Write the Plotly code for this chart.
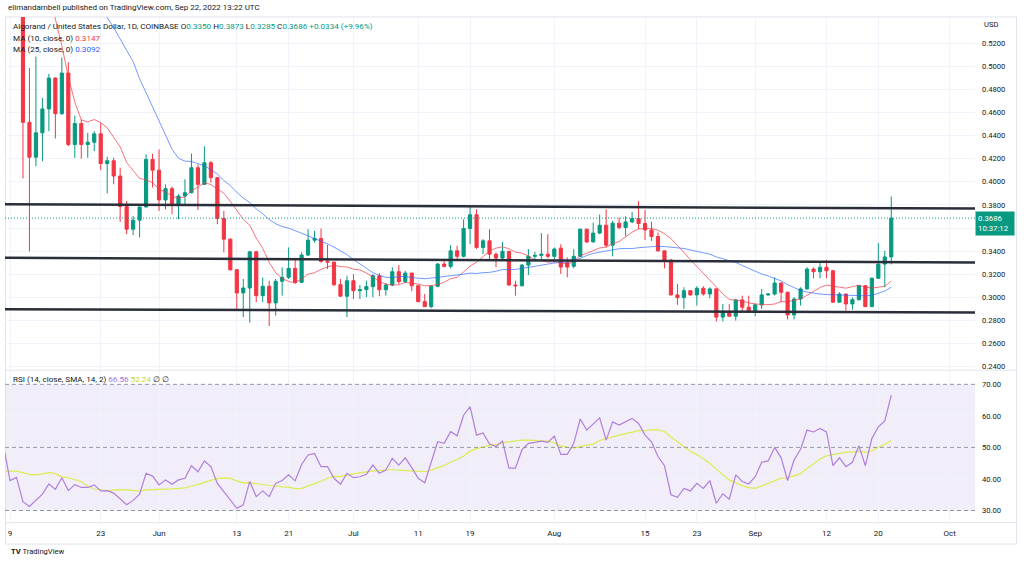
import pandas as pd
import plotly.graph_objects as go

# ---------------- data ----------------
candle_start = "2022-05-11"
candle_end = "2022-09-22"

opens = [0.586, 0.4515, 0.4213, 0.4424, 0.4631, 0.4898, 0.4590, 0.4941, 0.4323, 0.4504, 0.4323, 0.4343, 0.4415, 0.4159, 0.4182, 0.4050, 0.3786, 0.3590, 0.3668, 0.3782, 0.4194,
         0.4101, 0.3843, 0.3941, 0.3797, 0.3877, 0.3906, 0.4122, 0.3978, 0.4165, 0.4036, 0.3682, 0.3504, 0.3239, 0.3038, 0.3081, 0.3394, 0.3015, 0.3096, 0.2952, 0.3139, 0.3173, 0.3251, 0.3130, 0.3366, 0.3495, 0.3510, 0.3311, 0.3305, 0.3110, 0.3010,
         0.3144, 0.3058, 0.3067, 0.3093, 0.3187, 0.3066, 0.3107, 0.3222, 0.3136, 0.3210, 0.3101, 0.2963, 0.2920, 0.3096, 0.3288, 0.3268, 0.3403, 0.3355, 0.3596, 0.3715, 0.3432, 0.3489, 0.3374, 0.3340, 0.3398, 0.3107, 0.3100, 0.3279, 0.3355, 0.3363, 0.3374,
         0.3355, 0.3426, 0.3300, 0.3269, 0.3355, 0.3590, 0.3480, 0.3556, 0.3624, 0.3452, 0.3642, 0.3605, 0.3653, 0.3682, 0.3639, 0.3584, 0.3527, 0.3403, 0.3323, 0.3021, 0.2998, 0.3058, 0.3021, 0.3079, 0.3029, 0.3073, 0.2829, 0.2877, 0.2837, 0.2978, 0.2915,
         0.2877, 0.2935, 0.3021, 0.3029, 0.3124, 0.3044, 0.2848, 0.2986, 0.3073, 0.3245, 0.3222, 0.3260, 0.3230, 0.2958, 0.3029, 0.2943, 0.2980, 0.3101, 0.2920, 0.3165, 0.3288, 0.3350]
highs = [0.600, 0.4984, 0.5084, 0.4726, 0.4935, 0.4905, 0.5076, 0.5036, 0.4573, 0.4539, 0.4424, 0.4438, 0.4510, 0.4217, 0.4208, 0.4122, 0.3834, 0.3705, 0.3785, 0.4237, 0.4243,
         0.4280, 0.3978, 0.3958, 0.3892, 0.4022, 0.4245, 0.4150, 0.4308, 0.4180, 0.4040, 0.3748, 0.3510, 0.3245, 0.3159, 0.3403, 0.3403, 0.3173, 0.3144, 0.3159, 0.3260, 0.3432, 0.3331, 0.3390, 0.3590, 0.3575, 0.3596, 0.3455, 0.3308, 0.3159, 0.3187,
         0.3200, 0.3107, 0.3144, 0.3200, 0.3210, 0.3124, 0.3260, 0.3279, 0.3230, 0.3212, 0.3103, 0.3029, 0.3107, 0.3297, 0.3317, 0.3452, 0.3446, 0.3676, 0.3786, 0.3762, 0.3504, 0.3590, 0.3389, 0.3480, 0.3402, 0.3144, 0.3288, 0.3418, 0.3394, 0.3556, 0.3547,
         0.3432, 0.3460, 0.3346, 0.3418, 0.3596, 0.3595, 0.3648, 0.3717, 0.3762, 0.3662, 0.3691, 0.3700, 0.3739, 0.3834, 0.3756, 0.3653, 0.3562, 0.3405, 0.3331, 0.3116, 0.3087, 0.3063, 0.3096, 0.3096, 0.3087, 0.3079, 0.2943, 0.2943, 0.2980, 0.3015, 0.3015,
         0.2943, 0.3073, 0.3035, 0.3173, 0.3130, 0.3050, 0.3001, 0.3087, 0.3260, 0.3260, 0.3297, 0.3323, 0.3239, 0.3044, 0.3032, 0.3001, 0.3107, 0.3107, 0.3173, 0.3469, 0.3403, 0.3873]
lows = [0.4030, 0.3398, 0.4136, 0.4179, 0.4438, 0.4375, 0.4580, 0.4308, 0.4208, 0.4200, 0.4208, 0.4265, 0.4101, 0.3900, 0.3978, 0.3653, 0.3547, 0.3538, 0.3518, 0.3780, 0.3950,
        0.3748, 0.3762, 0.3719, 0.3676, 0.3797, 0.3900, 0.3756, 0.3975, 0.3993, 0.3633, 0.3389, 0.3230, 0.2886, 0.2829, 0.2780, 0.2958, 0.2958, 0.2751, 0.2842, 0.3015, 0.3159, 0.3116, 0.3125, 0.3360, 0.3475, 0.3300, 0.3245, 0.3096, 0.3005, 0.2829,
        0.2986, 0.2986, 0.3001, 0.3001, 0.3010, 0.3015, 0.3096, 0.3116, 0.3124, 0.3053, 0.2958, 0.2915, 0.2906, 0.3087, 0.3260, 0.3251, 0.3331, 0.3346, 0.3461, 0.3418, 0.3374, 0.3331, 0.3260, 0.3331, 0.3100, 0.3015, 0.3096, 0.3193, 0.3308, 0.3317, 0.3337,
        0.3303, 0.3202, 0.3173, 0.3251, 0.3346, 0.3469, 0.3475, 0.3547, 0.3432, 0.3355, 0.3590, 0.3532, 0.3642, 0.3590, 0.3498, 0.3489, 0.3394, 0.3251, 0.3016, 0.2935, 0.2900, 0.3015, 0.2929, 0.3015, 0.2992, 0.2791, 0.2791, 0.2829, 0.2799, 0.2872, 0.2872,
        0.2837, 0.2900, 0.3015, 0.3015, 0.2958, 0.2808, 0.2808, 0.2929, 0.3067, 0.3165, 0.3165, 0.3165, 0.2952, 0.2952, 0.2886, 0.2894, 0.2972, 0.2915, 0.2915, 0.3159, 0.3087, 0.3285]
closes = [0.4515, 0.4213, 0.4424, 0.4631, 0.4898, 0.4590, 0.4941, 0.4323, 0.4504, 0.4323, 0.4343, 0.4415, 0.4159, 0.4182, 0.4050, 0.3786, 0.3590, 0.3668, 0.3782, 0.4194, 0.4101,
          0.3843, 0.3941, 0.3797, 0.3877, 0.3906, 0.4122, 0.3978, 0.4165, 0.4036, 0.3682, 0.3504, 0.3239, 0.3038, 0.3081, 0.3394, 0.3015, 0.3096, 0.2952, 0.3139, 0.3173, 0.3251, 0.3130, 0.3366, 0.3495, 0.3510, 0.3311, 0.3305, 0.3110, 0.3010, 0.3144,
          0.3058, 0.3067, 0.3093, 0.3187, 0.3066, 0.3107, 0.3222, 0.3136, 0.3210, 0.3101, 0.2963, 0.2920, 0.3096, 0.3288, 0.3268, 0.3403, 0.3355, 0.3596, 0.3715, 0.3432, 0.3489, 0.3374, 0.3340, 0.3398, 0.3107, 0.3100, 0.3279, 0.3355, 0.3363, 0.3374, 0.3355,
          0.3418, 0.3262, 0.3262, 0.3355, 0.3590, 0.3480, 0.3556, 0.3624, 0.3452, 0.3642, 0.3605, 0.3653, 0.3682, 0.3639, 0.3584, 0.3527, 0.3403, 0.3323, 0.3021, 0.2998, 0.3058, 0.3021, 0.3079, 0.3029, 0.3073, 0.2829, 0.2877, 0.2837, 0.2978, 0.2915, 0.2877,
          0.2935, 0.3021, 0.3029, 0.3124, 0.3044, 0.2848, 0.2986, 0.3073, 0.3245, 0.3222, 0.3260, 0.3230, 0.2958, 0.3029, 0.2943, 0.2980, 0.3101, 0.2920, 0.3165, 0.3288, 0.3350, 0.3686]

# closes before the first visible candle (Apr 17 - May 10), off the top of the chart, used to warm up the moving averages
warmup_closes = [0.82, 0.80, 0.84, 0.83, 0.80, 0.78, 0.78, 0.76, 0.77, 0.70, 0.72, 0.72, 0.68, 0.62,
                 0.61, 0.62, 0.61, 0.75, 0.72, 0.71, 0.71, 0.70, 0.67, 0.586]

rsi_start = "2022-05-08"
rsi_values = [50.5, 39.5, 40.5, 32.8, 31.3, 33.2, 35.2, 38.4, 36.7, 40.4, 36.3, 38.2, 37.3, 37.3, 38.1, 36.2, 36.3, 35.5, 33.6, 31.8, 33.2, 35.2, 41.8, 40.9,
              38.1, 39.7, 38.3, 39.7, 40.2, 44.2, 42.3, 45.7, 43.9, 38.6, 36.0, 33.3, 30.7, 31.8, 39.2, 34.4, 36.2, 34.4, 38.6, 39.5, 41.3, 39.4, 44.6, 47.6, 48.1, 43.9, 43.9, 40.2, 38.3, 41.8,
              40.4, 40.7, 41.5, 44.4, 41.8, 42.8, 46.5, 44.4, 46.7, 43.6, 40.2, 38.8, 45.5, 51.8, 51.3, 55.0, 53.7, 60.2, 62.9, 53.9, 54.6, 51.1, 50.3, 52.0, 43.4, 43.4, 49.2, 51.3, 51.6, 52.0, 51.6,
              53.6, 47.8, 47.8, 51.3, 59.0, 55.5, 57.3, 59.4, 52.3, 58.1, 57.1, 58.1, 59.2, 57.6, 53.9, 51.8, 47.1, 44.2, 35.0, 34.2, 37.0, 36.2, 38.6, 37.0, 39.5, 32.3, 35.3, 33.6, 41.3, 39.2, 38.4,
              40.7, 45.3, 45.7, 50.0, 46.7, 39.5, 46.0, 49.4, 55.5, 54.9, 56.0, 54.9, 44.2, 46.7, 43.9, 45.3, 50.5, 44.2, 52.8, 56.5, 58.4, 66.56]
# RSI values before the visible range (Apr 25 - May 7), used to warm up the RSI moving average
rsi_warmup = [35.3, 40.5, 39.8, 38.3, 36.0, 29.6, 34.2, 40.9, 54.4, 40.5, 45.2, 47.1, 58.2]

tick_dates = ["2022-05-09", "2022-05-23", "2022-06-01", "2022-06-13", "2022-06-21", "2022-07-01", "2022-07-11",
              "2022-07-19", "2022-08-01", "2022-08-15", "2022-08-23", "2022-09-01", "2022-09-12", "2022-09-20", "2022-10-01"]
tick_text = ["9", "23", "Jun", "13", "21", "Jul", "11", "19", "Aug", "15", "23", "Sep", "12", "20", "Oct"]
price_ticks = [0.24, 0.26, 0.28, 0.30, 0.32, 0.34, 0.36, 0.38, 0.40, 0.42, 0.44, 0.46, 0.48, 0.50, 0.52]
hidden_price_ticks = [0.36]   # label covered by the last-price tag
rsi_ticks = [30, 40, 50, 60, 70]
rsi_bands = [70, 50, 30]

# drawn horizontal channel lines: price at the left edge / right edge
level_left = [0.3806, 0.3342, 0.2898]
level_right = [0.3768, 0.3302, 0.2868]

last_price = 0.3686
countdown = "10:37:12"
header_text = "elimandambell published on TradingView.com, Sep 22, 2022 13:22 UTC"
symbol_text = "Algorand / United States Dollar, 1D, COINBASE"
ohlc_text = {"O": "0.3350", "H": "0.3873", "L": "0.3285", "C": "0.3686"}
change_text = "+0.0334 (+9.96%)"
ma10_text = "0.3147"
ma25_text = "0.3092"
rsi_text = "66.56"
rsi_ma_text = "52.24"

# ---------------- derived series ----------------
dates = pd.date_range(candle_start, candle_end, freq="D")
rsi_dates = pd.date_range(rsi_start, candle_end, freq="D")
all_close = pd.Series(warmup_closes + closes)
ma10 = all_close.rolling(10).mean().iloc[len(warmup_closes):].values
ma25 = all_close.rolling(25).mean().iloc[len(warmup_closes):].values
rsi_all = pd.Series(rsi_warmup + rsi_values)
rsi_ma = rsi_all.rolling(14).mean().iloc[len(rsi_warmup):].values

# ---------------- styling ----------------
W, H = 1024, 565
GREEN = "#089981"
RED = "#f23645"
TXT = "#131722"
GRID = "#f0f3fa"
FONT = "Roboto"

def px(x):
    return x / W

def py(y):
    return 1 - y / H

fig = go.Figure()

fig.add_trace(go.Candlestick(
    x=dates, open=opens, high=highs, low=lows, close=closes,
    increasing=dict(line=dict(color=GREEN, width=1), fillcolor=GREEN),
    decreasing=dict(line=dict(color=RED, width=1), fillcolor=RED),
    whiskerwidth=0, showlegend=False, hoverinfo="skip", xaxis="x", yaxis="y"))
fig.add_trace(go.Scatter(x=dates, y=ma10, mode="lines", line=dict(color="rgba(242,54,69,0.7)", width=1),
                         showlegend=False, hoverinfo="skip", xaxis="x", yaxis="y"))
fig.add_trace(go.Scatter(x=dates, y=ma25, mode="lines", line=dict(color="rgba(41,98,255,0.65)", width=1),
                         showlegend=False, hoverinfo="skip", xaxis="x", yaxis="y"))
fig.add_trace(go.Scatter(x=rsi_dates, y=rsi_ma, mode="lines", line=dict(color="#dcec4e", width=1.2),
                         showlegend=False, hoverinfo="skip", xaxis="x", yaxis="y2"))
fig.add_trace(go.Scatter(x=rsi_dates, y=rsi_values, mode="lines", line=dict(color="#b07fdc", width=1.2),
                         showlegend=False, hoverinfo="skip", xaxis="x", yaxis="y2"))

shapes = []
# RSI background band
shapes.append(dict(type="rect", xref="x domain", x0=0, x1=1, yref="y2", y0=30, y1=70,
                   fillcolor="rgba(126,87,194,0.1)", line=dict(width=0), layer="below"))
for b in rsi_bands:
    shapes.append(dict(type="line", xref="x domain", x0=0, x1=1, yref="y2", y0=b, y1=b,
                       line=dict(color="#9598a1", width=1, dash="4px,3px")))
# channel lines
for a, b in zip(level_left, level_right):
    shapes.append(dict(type="line", xref="x domain", x0=0, x1=1, yref="y", y0=a, y1=b,
                       line=dict(color="#2a2e39", width=2.5)))
# last price dotted line
shapes.append(dict(type="line", xref="x domain", x0=0, x1=1, yref="y", y0=last_price, y1=last_price,
                   line=dict(color=GREEN, width=1, dash="1px,2px")))
# frame & separators
frame = dict(color="#e0e3eb", width=1)
shapes.append(dict(type="rect", xref="paper", yref="paper", x0=px(5.5), x1=px(1016.5), y0=py(546), y1=py(17),
                   line=frame, layer="below"))
shapes.append(dict(type="line", xref="paper", yref="paper", x0=px(5.5), x1=px(1016.5), y0=py(371.5), y1=py(371.5), line=frame))
shapes.append(dict(type="line", xref="paper", yref="paper", x0=px(5.5), x1=px(1016.5), y0=py(524.5), y1=py(524.5), line=frame))

ann = []
ann.append(dict(xref="paper", yref="paper", x=px(6), y=py(8), xanchor="left", yanchor="middle",
                text=header_text, showarrow=False, font=dict(family=FONT, size=8.0, color=TXT)))
g = lambda s: f"<span style='color:{GREEN}'>{s}</span>"
line1 = (symbol_text + " " + " ".join(k + g(v) for k, v in ohlc_text.items()) + " " + g(change_text))
ann.append(dict(xref="paper", yref="paper", x=px(11), y=py(26), xanchor="left", yanchor="middle",
                text=line1, showarrow=False, font=dict(family=FONT, size=8.1, color=TXT)))
ann.append(dict(xref="paper", yref="paper", x=px(11), y=py(38), xanchor="left", yanchor="middle",
                text=f"MA (10, close, 0) <span style='color:{RED}'>{ma10_text}</span>", showarrow=False,
                font=dict(family=FONT, size=8.1, color=TXT)))
ann.append(dict(xref="paper", yref="paper", x=px(11), y=py(49), xanchor="left", yanchor="middle",
                text=f"MA (25, close, 0) <span style='color:#2962ff'>{ma25_text}</span>", showarrow=False,
                font=dict(family=FONT, size=8.1, color=TXT)))
ann.append(dict(xref="paper", yref="paper", x=px(11), y=py(380), xanchor="left", yanchor="middle",
                text=(f"RSI (14, close, SMA, 14, 2) <span style='color:#9c6fd6'>{rsi_text}</span> "
                      f"<span style='color:#c6d62e'>{rsi_ma_text}</span> ∅ ∅"),
                showarrow=False, font=dict(family=FONT, size=8.1, color=TXT)))
ann.append(dict(xref="paper", yref="paper", x=px(982), y=py(25), xanchor="left", yanchor="middle",
                text="USD", showarrow=False, font=dict(family=FONT, size=7.6, color=TXT)))
ann.append(dict(xref="paper", yref="y", x=px(975), y=last_price, xanchor="left", yanchor="middle", yshift=-5,
                text=f"{last_price:.4f}<br>{countdown}", showarrow=False, align="left",
                bgcolor=GREEN, borderpad=2, width=34,
                font=dict(family=FONT, size=7.8, color="white")))
ann.append(dict(xref="paper", yref="paper", x=px(9), y=py(553), xanchor="left", yanchor="middle",
                text="<b>TV</b> TradingView", showarrow=False, font=dict(family=FONT, size=7.6, color=TXT)))

fig.update_layout(
    width=W, height=H, margin=dict(l=0, r=0, t=0, b=0),
    paper_bgcolor="white", plot_bgcolor="white", showlegend=False,
    font=dict(family=FONT, size=8, color=TXT),
    shapes=shapes, annotations=ann,
    xaxis=dict(domain=[px(5), px(975)], anchor="y2",
               range=["2022-05-08 05:28", "2022-10-04 22:05"],
               tickvals=tick_dates, ticktext=tick_text, showgrid=True, gridcolor=GRID, gridwidth=1,
               ticks="", ticklabelstandoff=5, tickfont=dict(size=8, color=TXT),
               rangeslider=dict(visible=False), showline=False, zeroline=False, fixedrange=True),
    yaxis=dict(domain=[py(371), py(17)], anchor="x", side="right",
               range=[0.2374, 0.5427], tickvals=price_ticks,
               ticktext=["" if v in hidden_price_ticks else f"{v:.4f}" for v in price_ticks],
               showgrid=True, gridcolor=GRID, ticks="", ticklabelstandoff=6, zeroline=False,
               tickfont=dict(size=7.6, color=TXT), showline=False),
    yaxis2=dict(domain=[py(524), py(372)], anchor="x", side="right",
                range=[26.3, 74.33], tickvals=rsi_ticks, ticktext=[f"{v:.2f}" for v in rsi_ticks],
                showgrid=True, gridcolor=GRID, ticks="", ticklabelstandoff=6, zeroline=False,
                tickfont=dict(size=7.6, color=TXT), showline=False),
)

fig.write_html("out.html", config={"displayModeBar": False},
               post_script="document.body.style.margin='0';document.body.style.overflow='hidden';")
